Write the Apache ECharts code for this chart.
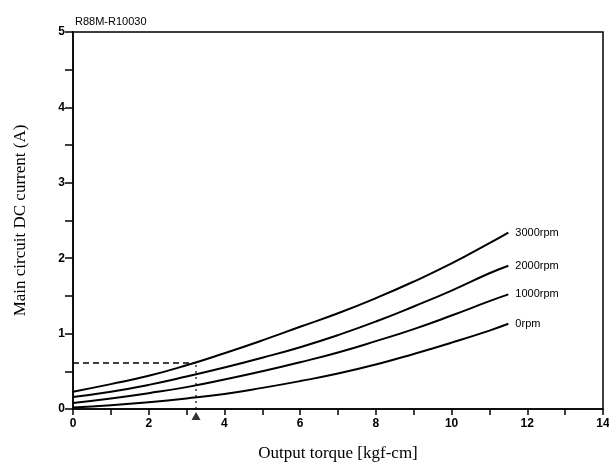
<!DOCTYPE html>
<html>
<head>
<meta charset="utf-8">
<script src="https://cdn.jsdelivr.net/npm/echarts@6/dist/echarts.min.js"></script>
<style>
  html, body { margin: 0; padding: 0; background: #fff; }
  #main { width: 609px; height: 470px; }
</style>
</head>
<body>
<div id="main"></div>
<script>
// output torque [kgf-cm] sample points
var torque = [0, 1, 2, 3, 4, 5, 6, 7, 8, 9, 10, 11, 11.5];
// main circuit DC current (A) per speed
var rpm3000 = [0.23, 0.33, 0.44, 0.58, 0.74, 0.91, 1.09, 1.27, 1.47, 1.69, 1.93, 2.20, 2.34];
var rpm2000 = [0.16, 0.23, 0.32, 0.43, 0.55, 0.68, 0.82, 0.98, 1.16, 1.36, 1.57, 1.80, 1.90];
var rpm1000 = [0.08, 0.14, 0.21, 0.29, 0.39, 0.50, 0.62, 0.75, 0.90, 1.06, 1.24, 1.43, 1.52];
var rpm0 = [0.02, 0.05, 0.09, 0.14, 0.20, 0.28, 0.37, 0.47, 0.59, 0.73, 0.88, 1.04, 1.13];
var seriesNames = ['3000rpm', '2000rpm', '1000rpm', '0rpm'];
// reference operating point (dashed guide + triangle)
var refTorque = 3.25;
var refCurrent = 0.61;

!function(){
    var myChart = echarts.init(document.getElementById('main'));
    var sans = 'Liberation Sans';
    var serif = 'Liberation Serif';

    function pairs(ys) {
        return torque.map(function(x, i){ return [x, ys[i]]; });
    }

    var curves = [rpm3000, rpm2000, rpm1000, rpm0].map(function(ys, i){
        return {
            name: seriesNames[i],
            type: 'line',
            smooth: true,
            symbol: 'none',
            lineStyle: { color: '#000', width: 2 },
            endLabel: {
                show: true,
                formatter: '{a}',
                color: '#000',
                fontFamily: sans,
                fontSize: 11,
                distance: 7
            },
            data: pairs(ys)
        };
    });

    var option = {
        animation: false,
        title: {
            text: 'R88M-R10030',
            left: 70,
            top: 11,
            textStyle: { fontFamily: sans, fontSize: 11, fontWeight: 'normal', color: '#000' }
        },
        grid: {
            left: 73, right: 6, top: 32, bottom: 61,
            outerBoundsMode: 'none',
            containLabel: false,
            show: true, borderColor: '#000', borderWidth: 1.5
        },
        xAxis: {
            type: 'value',
            min: 0, max: 14, interval: 1,
            name: 'Output torque [kgf-cm]',
            nameLocation: 'middle',
            nameGap: 36,
            nameTextStyle: { fontFamily: serif, fontSize: 17, color: '#000' },
            axisLine: { lineStyle: { color: '#000', width: 1.5 } },
            axisTick: { length: 6, lineStyle: { color: '#000', width: 1.5 } },
            axisLabel: {
                color: '#000', fontFamily: sans, fontSize: 12, fontWeight: 'bold', margin: 9,
                formatter: function(v){ return v % 2 === 0 ? String(v) : ''; }
            },
            splitLine: { show: false }
        },
        yAxis: {
            type: 'value',
            min: 0, max: 5, interval: 0.5,
            name: 'Main circuit DC current (A)',
            nameLocation: 'middle',
            nameGap: 44,
            nameTextStyle: { fontFamily: serif, fontSize: 17, color: '#000' },
            axisLine: { show: true, lineStyle: { color: '#000', width: 1.5 } },
            axisTick: { show: true, length: 8, lineStyle: { color: '#000', width: 1.5 } },
            axisLabel: {
                color: '#000', fontFamily: sans, fontSize: 12, fontWeight: 'bold', margin: 8,
                formatter: function(v){ return v % 1 === 0 ? String(v) : ''; }
            },
            splitLine: { show: false }
        },
        series: curves.concat([
            {
                name: 'guideH',
                type: 'line',
                symbol: 'none',
                lineStyle: { color: '#000', width: 1.5, type: [6, 4] },
                data: [[0, refCurrent], [refTorque, refCurrent]]
            },
            {
                name: 'guideV',
                type: 'line',
                symbol: 'none',
                lineStyle: { color: '#000', width: 1.2, type: [2, 4] },
                data: [[refTorque, 0], [refTorque, refCurrent]]
            },
            {
                name: 'marker',
                type: 'scatter',
                symbol: 'triangle',
                symbolSize: [9, 8],
                symbolOffset: [0, 7],
                clip: false,
                itemStyle: { color: '#000' },
                data: [[refTorque, 0]]
            }
        ])
    };
    myChart.setOption(option);
}.call()
</script>
</body>
</html>
